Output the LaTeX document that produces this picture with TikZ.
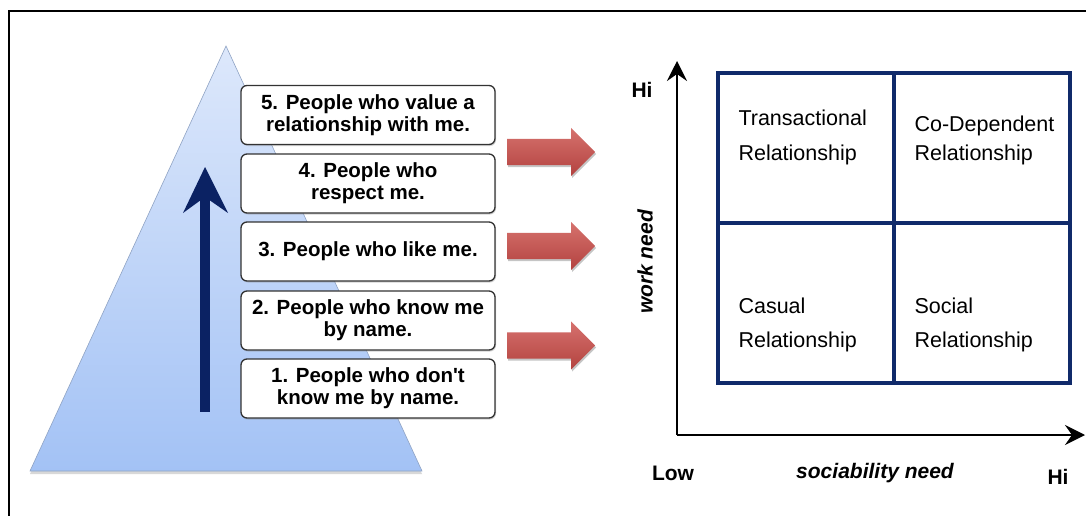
\documentclass[tikz,border=0pt]{standalone}
\usepackage{fontspec}
\setmainfont{Liberation Sans}
\usetikzlibrary{shapes.arrows,shadows,arrows.meta}
\definecolor{pyrtop}{HTML}{DDE8FB}
\definecolor{pyrbot}{HTML}{A3C2F5}
\definecolor{pyredge}{HTML}{8FA3C4}
\definecolor{navy}{HTML}{0B2263}
\definecolor{gridblue}{HTML}{102A6A}
\definecolor{redtop}{HTML}{D6726E}
\definecolor{redbot}{HTML}{B3423F}
\tikzset{
  level/.style={draw=black!80, line width=1.3pt, rounded corners=6pt, fill=white,
    minimum width=254pt, minimum height=59pt, inner sep=0pt, align=center,
    font=\fontsize{20.5}{22}\selectfont\bfseries,
    drop shadow={shadow xshift=1pt, shadow yshift=-1.5pt, opacity=0.35}},
  push/.style={single arrow, single arrow head extend=11pt, minimum width=48pt,
    minimum height=88pt, inner xsep=0pt, inner ysep=13pt, draw=none,
    top color=redtop, bottom color=redbot, anchor=tail,
    drop shadow={shadow xshift=1pt, shadow yshift=-2pt, opacity=0.45}},
  gridline/.style={draw=gridblue, line width=4pt},
  axis/.style={line width=2.5pt, -{Stealth[length=20pt, width=20pt, inset=7pt]}},
  quad/.style={anchor=west, align=left, font=\fontsize{21.5}{35}\selectfont},
  axislabel/.style={font=\fontsize{21}{24}\selectfont\bfseries},
}
\begin{document}
\begin{tikzpicture}[x=1pt, y=-1pt]
	\useasboundingbox (0,0) rectangle (1086,516);
	\clip (0,0) rectangle (1086,516);
	\fill[white] (0,0) rectangle (1086,516);
	\draw[line width=1.2pt] (9,11) rectangle (1100,530); %frame

	% pyramid
	\draw[draw=pyredge, line width=0.6pt, top color=pyrtop, bottom color=pyrbot,
	  drop shadow={shadow xshift=0pt, shadow yshift=-3pt, opacity=0.3}]
	  (226,46) -- (422,471) -- (30,471) -- cycle;
	\fill[navy] (200,412) rectangle (210,196); %shaft
	\fill[navy] (205,167) -- (228,213) -- (205,197) -- (183,213) -- cycle; %head

	\node[level] at (368,115) (lvl5) {5. People who value a\\relationship with me.};
	\node[level] at (368,183.5) (lvl4) {4. People who\\respect me.};
	\node[level] at (368,251.5) (lvl3) {3. People who like me.};
	\node[level] at (368,320.5) (lvl2) {2. People who know me\\by name.};
	\node[level] at (368,388.5) (lvl1) {1. People who don\textquotesingle t\\know me by name.};

	\node[push] at (507,152) (arr1) {};
	\node[push] at (507,246) (arr2) {};
	\node[push] at (507,345.5) (arr3) {};

	% matrix
	\draw[gridline] (718,73) rectangle (1070,383);
	\draw[gridline] (894,73) -- (894,383);
	\draw[gridline] (718,223) -- (1070,223);

	\node[quad] at (735,137.5) (trans) {Transactional\\Relationship};
	\node[quad, font=\fontsize{21.5}{29}\selectfont] at (911,140.5) (codep) {Co-Dependent\\Relationship};
	\node[quad, font=\fontsize{21.5}{34}\selectfont] at (735,325) (casual) {Casual\\Relationship};
	\node[quad, font=\fontsize{21.5}{34}\selectfont] at (911,325) (social) {Social\\Relationship};

	% axes
	\coordinate (origin) at (677,435);
	\coordinate (ytop) at (677,61);
	\coordinate (xend) at (1085,435);
	\draw[axis] (origin) -- (ytop);
	\draw[axis] (origin) -- (xend);

	\node[axislabel] at (642,90) (hiy) {Hi};
	\node[axislabel, font=\fontsize{21}{24}\selectfont\bfseries\itshape, rotate=90] at (645,262) (work) {work need};
	\node[axislabel] at (673,473) (low) {Low};
	\node[axislabel, font=\fontsize{21}{24}\selectfont\bfseries\itshape] at (875,473) (soc) {sociability need};
	\node[axislabel] at (1058,477) (hix) {Hi};
\end{tikzpicture}
\end{document}
